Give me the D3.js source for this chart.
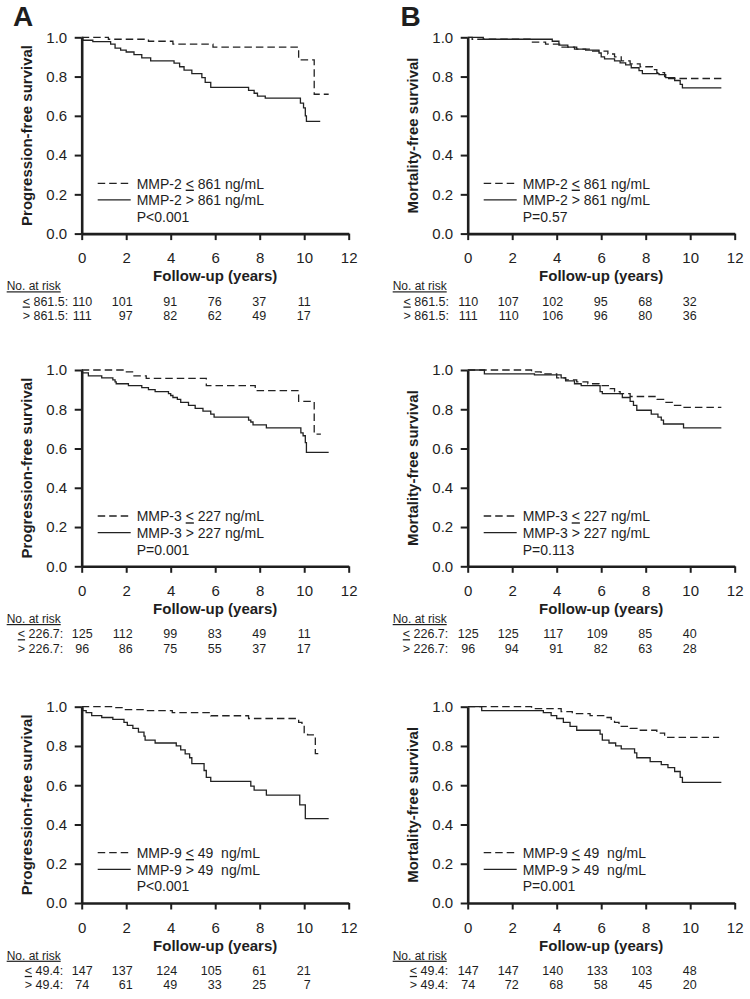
<!DOCTYPE html>
<html><head><meta charset="utf-8">
<script src="https://cdn.jsdelivr.net/npm/d3@7"></script>
<style>
body{margin:0;background:#fff;}
svg{display:block;}
text{font-family:"Liberation Sans",Arial,sans-serif;fill:#1e1e1e;}
</style>
</head><body>
<svg id="chart" width="750" height="999"></svg>
<script>
// ---------- data ----------
const xTicks = [0, 2, 4, 6, 8, 10, 12];
const yTicks = [0, 0.2, 0.4, 0.6, 0.8, 1.0];
const riskTimes = [0, 2, 4, 6, 8, 10];
const panelLetters = ["A", "B"];
const yTitles = ["Progression-free survival", "Mortality-free survival"];
const xTitle = "Follow-up (years)";

// MMP-2, progression-free (A, row 1)
const a1Low  = [[0,1],[1.2,0.99],[3.0,0.98],[4.1,0.965],[5.9,0.95],[9.75,0.885],[10.45,0.71],[11.1,0.71]];
const a1High = [[0,1],[0.05,0.985],[0.5,0.978],[1.3,0.965],[1.5,0.945],[1.75,0.935],[2.0,0.925],[2.35,0.912],[2.7,0.895],[3.1,0.88],[4.15,0.868],[4.4,0.85],[4.6,0.833],[4.95,0.815],[5.4,0.795],[5.55,0.77],[5.8,0.745],[7.5,0.73],[7.75,0.715],[7.9,0.70],[8.25,0.69],[9.83,0.665],[9.97,0.64],[10.05,0.60],[10.1,0.572],[10.72,0.572]];
// MMP-2, mortality-free (B, row 1)
const b1Low  = [[0,1],[0.2,0.99],[2.8,0.975],[3.5,0.965],[4.2,0.95],[4.8,0.94],[5.55,0.93],[6.3,0.915],[6.6,0.90],[6.9,0.88],[7.3,0.865],[7.75,0.85],[8.3,0.835],[8.5,0.82],[8.85,0.80],[9.0,0.79],[11.4,0.79]];
const b1High = [[0,1],[0.7,0.99],[3.8,0.98],[4.1,0.96],[4.5,0.95],[4.9,0.94],[5.3,0.935],[5.9,0.92],[6.0,0.90],[6.15,0.89],[6.6,0.88],[6.85,0.87],[7.1,0.86],[7.35,0.845],[7.7,0.83],[7.85,0.815],[8.6,0.81],[8.9,0.795],[9.3,0.78],[9.55,0.76],[9.65,0.742],[11.4,0.742]];
// MMP-3, progression-free (A, row 2)
const a2Low  = [[0,1],[1.9,0.99],[2.35,0.97],[2.9,0.957],[5.6,0.92],[7.8,0.895],[9.75,0.84],[10.45,0.673],[10.75,0.673]];
const a2High = [[0,1],[0.03,0.985],[0.3,0.97],[0.9,0.96],[1.4,0.95],[1.5,0.94],[1.55,0.93],[2.1,0.92],[2.7,0.91],[3.0,0.90],[3.3,0.89],[3.9,0.88],[4.0,0.87],[4.1,0.86],[4.3,0.85],[4.45,0.835],[4.8,0.82],[5.1,0.805],[5.45,0.79],[5.8,0.775],[5.95,0.76],[7.5,0.745],[7.6,0.735],[7.7,0.72],[8.3,0.705],[9.85,0.68],[9.95,0.665],[10.05,0.63],[10.1,0.58],[11.1,0.58]];
// MMP-3, mortality-free (B, row 2)
const b2Low  = [[0,1],[2.87,0.99],[3.3,0.98],[4.0,0.96],[4.4,0.95],[4.9,0.94],[5.4,0.93],[5.9,0.92],[6.4,0.905],[6.6,0.89],[6.85,0.88],[7.3,0.865],[8.5,0.85],[8.85,0.835],[9.2,0.82],[9.65,0.81],[11.4,0.81]];
const b2High = [[0,1],[0.75,0.98],[3.0,0.975],[4.2,0.96],[4.4,0.945],[4.8,0.93],[5.1,0.92],[5.95,0.89],[6.05,0.88],[6.95,0.86],[7.3,0.84],[7.45,0.82],[7.6,0.795],[8.25,0.775],[8.55,0.76],[8.7,0.745],[8.8,0.725],[9.7,0.705],[11.4,0.705]];
// MMP-9, progression-free (A, row 3)
const a3Low  = [[0,1],[1.5,0.995],[1.9,0.985],[2.8,0.98],[4.07,0.97],[5.8,0.954],[7.5,0.94],[9.75,0.92],[9.9,0.905],[10.0,0.868],[10.15,0.856],[10.5,0.761],[10.8,0.761]];
const a3High = [[0,1],[0.05,0.98],[0.2,0.97],[0.45,0.955],[0.9,0.945],[1.4,0.935],[1.9,0.92],[2.05,0.905],[2.3,0.89],[2.55,0.87],[2.8,0.85],[2.85,0.83],[3.3,0.815],[4.25,0.80],[4.45,0.78],[4.65,0.76],[4.85,0.74],[4.95,0.71],[5.5,0.675],[5.6,0.64],[5.8,0.62],[7.6,0.595],[7.75,0.575],[8.3,0.55],[9.8,0.50],[10.05,0.43],[11.1,0.43]];
// MMP-9, mortality-free (B, row 3)
const b3Low  = [[0,1],[2.87,0.99],[4.2,0.975],[4.7,0.965],[5.5,0.955],[6.2,0.945],[6.45,0.935],[6.6,0.92],[6.8,0.90],[7.3,0.89],[7.7,0.88],[8.5,0.865],[8.85,0.844],[11.3,0.844]];
const b3High = [[0,1],[0.63,0.98],[3.4,0.97],[3.75,0.955],[4.0,0.94],[4.3,0.92],[4.6,0.90],[4.9,0.88],[5.95,0.86],[6.05,0.83],[6.35,0.815],[6.65,0.80],[6.9,0.785],[7.5,0.765],[7.6,0.74],[8.2,0.72],[8.7,0.705],[9.0,0.69],[9.3,0.67],[9.55,0.64],[9.65,0.615],[11.4,0.615]];

// legends and p-values
const legendLow  = ["MMP-2 \u2264 861 ng/mL", "MMP-3 \u2264 227 ng/mL", "MMP-9 \u2264 49\u00a0 ng/mL"];
const legendHigh = ["MMP-2 > 861 ng/mL", "MMP-3 > 227 ng/mL", "MMP-9 > 49\u00a0 ng/mL"];
const pValuesA = ["P<0.001", "P=0.001", "P<0.001"];
const pValuesB = ["P=0.57", "P=0.113", "P=0.001"];

// numbers at risk
const riskLabelLow  = ["\u2264 861.5:", "\u2264 226.7:", "\u2264 49.4:"];
const riskLabelHigh = ["> 861.5:", "> 226.7:", "> 49.4:"];
const riskA1Low = [110,101,91,76,37,11],  riskA1High = [111,97,82,62,49,17];
const riskB1Low = [110,107,102,95,68,32], riskB1High = [111,110,106,96,80,36];
const riskA2Low = [125,112,99,83,49,11],  riskA2High = [96,86,75,55,37,17];
const riskB2Low = [125,125,117,109,85,40],riskB2High = [96,94,91,82,63,28];
const riskA3Low = [147,137,124,105,61,21],riskA3High = [74,61,49,33,25,7];
const riskB3Low = [147,147,140,133,103,48],riskB3High = [74,72,68,58,45,20];

// ---------- layout ----------
const colX = [81.7, 467.7];
const rowTop = [37.3, 370, 706.7];
const plotW = 267, plotH = 196.3;

const panels = [
  {c:0,r:0,low:a1Low,high:a1High,p:pValuesA[0],rl:riskA1Low,rh:riskA1High,labOff:13.5},
  {c:1,r:0,low:b1Low,high:b1High,p:pValuesB[0],rl:riskB1Low,rh:riskB1High,labOff:18.7},
  {c:0,r:1,low:a2Low,high:a2High,p:pValuesA[1],rl:riskA2Low,rh:riskA2High,labOff:18.4},
  {c:1,r:1,low:b2Low,high:b2High,p:pValuesB[1],rl:riskB2Low,rh:riskB2High,labOff:19.4},
  {c:0,r:2,low:a3Low,high:a3High,p:pValuesA[2],rl:riskA3Low,rh:riskA3High,labOff:18.4},
  {c:1,r:2,low:b3Low,high:b3High,p:pValuesB[2],rl:riskB3Low,rh:riskB3High,labOff:19.4}
];

const svg = d3.select("#chart");
const ink = "#1e1e1e";

// writes text, drawing "≤" as an underlined "<" like the original figure
function leText(sel, str) {
  const parts = str.split("\u2264");
  parts.forEach((p, i) => {
    if (i > 0) sel.append("tspan").attr("text-decoration", "underline").text("<");
    if (p) sel.append("tspan").text(p);
  });
  return sel;
}

// panel letters
panelLetters.forEach((L,i) => {
  svg.append("text").attr("x", i===0 ? 13 : 400.5).attr("y", 25.5)
    .attr("font-size", 28).attr("font-weight", "bold").text(L);
});

panels.forEach(P => {
  const x0 = colX[P.c], y0 = rowTop[P.r];
  const x = d3.scaleLinear().domain([0,12]).range([x0, x0+plotW]);
  const y = d3.scaleLinear().domain([0,1]).range([y0+plotH, y0]);
  const g = svg.append("g");

  // curves
  const line = d3.line().x(d=>x(d[0])).y(d=>y(d[1])).curve(d3.curveStepAfter);
  g.append("path").attr("d", line(P.low)).attr("fill","none").attr("stroke","#222")
    .attr("stroke-width",1.3).attr("stroke-dasharray","7.5,4");
  g.append("path").attr("d", line(P.high)).attr("fill","none").attr("stroke","#222")
    .attr("stroke-width",1.3);

  // axes
  const xa = g.append("g").attr("transform",`translate(0,${y(0)})`)
    .call(d3.axisBottom(x).tickValues(xTicks).tickSize(6.5).tickSizeOuter(0).tickPadding(12.5));
  const ya = g.append("g").attr("transform",`translate(${x0},0)`)
    .call(d3.axisLeft(y).tickValues(yTicks).tickSize(7).tickSizeOuter(0).tickPadding(7.5).tickFormat(d3.format(".1f")));
  [xa, ya].forEach(a => {
    a.select(".domain").attr("stroke", ink).attr("stroke-width", 2.6);
    a.selectAll(".tick line").attr("stroke", ink).attr("stroke-width", 2);
    a.selectAll(".tick text").attr("font-size", 15).attr("fill", ink)
      .style("font-family","'Liberation Sans',Arial,sans-serif");
  });

  // axis titles
  g.append("text").attr("x", x(6)).attr("y", y(0)+47.5).attr("text-anchor","middle")
    .attr("font-size",15).attr("font-weight","bold").text(xTitle);
  g.append("text").attr("transform",`translate(${x0-55},${(y(0)+y(1))/2}) rotate(-90)`)
    .attr("text-anchor","middle").attr("dominant-baseline","central")
    .attr("font-size",15).attr("font-weight","bold").text(yTitles[P.c]);

  // legend
  const ly = y0 + 146;
  g.append("line").attr("x1",x0+16).attr("x2",x0+49).attr("y1",ly).attr("y2",ly)
    .attr("stroke","#222").attr("stroke-width",1.3).attr("stroke-dasharray","7.5,4");
  g.append("line").attr("x1",x0+16).attr("x2",x0+49).attr("y1",ly+16.6).attr("y2",ly+16.6)
    .attr("stroke","#222").attr("stroke-width",1.3);
  leText(g.append("text").attr("x",x0+55).attr("y",ly+5.3).attr("font-size",14), legendLow[P.r]);
  g.append("text").attr("x",x0+55).attr("y",ly+21.9).attr("font-size",14).text(legendHigh[P.r]);
  g.append("text").attr("x",x0+55).attr("y",ly+38.5).attr("font-size",14).text(P.p);

  // numbers at risk
  const ty = y(0);
  g.append("text").attr("x",x0-75).attr("y",ty+56.7).attr("font-size",12)
    .attr("text-decoration","underline").text("No. at risk");
  [[riskLabelLow[P.r], P.rl, ty+71.9],[riskLabelHigh[P.r], P.rh, ty+86.4]].forEach(([lab, vals, by]) => {
    leText(g.append("text").attr("x",x0-P.labOff).attr("y",by).attr("text-anchor","end")
      .attr("font-size",12.5), lab);
    vals.forEach((v,i) => {
      const t = riskTimes[i];
      g.append("text").attr("x", t===0 ? x(t)+0.5 : x(t)+6.5).attr("y",by)
        .attr("text-anchor", t===0 ? "middle" : "end").attr("font-size",12.5).text(v);
    });
  });
});
</script>
</body></html>
